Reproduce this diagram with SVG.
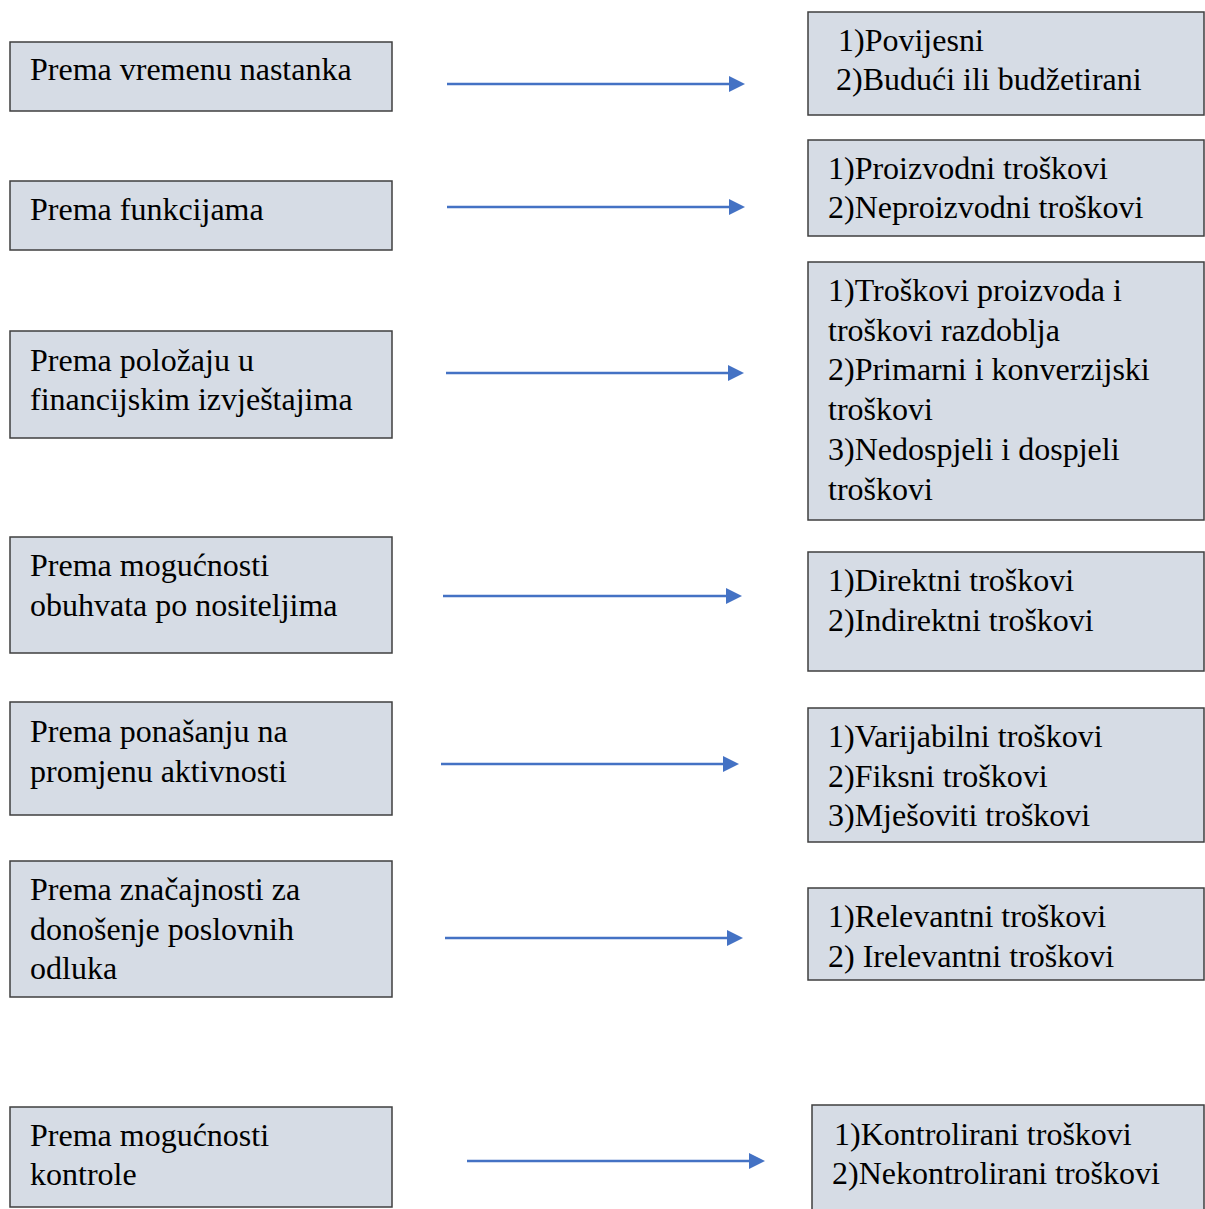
<svg xmlns="http://www.w3.org/2000/svg" width="1205" height="1209" viewBox="0 0 1205 1209">
<style>
.box{fill:#D6DCE5;stroke:#3F3F3F;stroke-width:1.5}
.t{font-family:"Liberation Serif","Times New Roman",serif;font-size:32px;fill:#000}
.c{stroke:#4472C4;stroke-width:2.5;fill:none}
</style>
<defs>
<marker id="ah" markerUnits="userSpaceOnUse" markerWidth="16" markerHeight="16" refX="2" refY="8" orient="auto">
<path d="M0,0 L16,8 L0,16 z" fill="#4472C4"/>
</marker>
</defs>
<rect width="1205" height="1209" fill="#fff"/>
<g id="l1"><rect class="box" x="10" y="42" width="382" height="69"/><text class="t" x="30" y="80">Prema vremenu nastanka</text></g>
<g id="l2"><rect class="box" x="10" y="181" width="382" height="69"/><text class="t" x="30" y="220">Prema funkcijama</text></g>
<g id="l3"><rect class="box" x="10" y="331" width="382" height="107"/><text class="t" x="30" y="371">Prema položaju u</text><text class="t" x="30" y="410">financijskim izvještajima</text></g>
<g id="l4"><rect class="box" x="10" y="537" width="382" height="116"/><text class="t" x="30" y="576">Prema mogućnosti</text><text class="t" x="30" y="616">obuhvata po nositeljima</text></g>
<g id="l5"><rect class="box" x="10" y="702" width="382" height="113"/><text class="t" x="30" y="742">Prema ponašanju na</text><text class="t" x="30" y="782">promjenu aktivnosti</text></g>
<g id="l6"><rect class="box" x="10" y="861" width="382" height="136"/><text class="t" x="30" y="900">Prema značajnosti za</text><text class="t" x="30" y="940">donošenje poslovnih</text><text class="t" x="30" y="979">odluka</text></g>
<g id="l7"><rect class="box" x="10" y="1107" width="382" height="100"/><text class="t" x="30" y="1146">Prema mogućnosti</text><text class="t" x="30" y="1185">kontrole</text></g>

<g id="r1"><rect class="box" x="808" y="12" width="396" height="103"/><text class="t" x="838" y="51">1)Povijesni</text><text class="t" x="836" y="90">2)Budući ili budžetirani</text></g>
<g id="r2"><rect class="box" x="808" y="140" width="396" height="96"/><text class="t" x="828" y="179">1)Proizvodni troškovi</text><text class="t" x="828" y="218">2)Neproizvodni troškovi</text></g>
<g id="r3"><rect class="box" x="808" y="262" width="396" height="258"/><text class="t" x="828" y="301">1)Troškovi proizvoda i</text><text class="t" x="828" y="341">troškovi razdoblja</text><text class="t" x="828" y="380">2)Primarni i konverzijski</text><text class="t" x="828" y="420">troškovi</text><text class="t" x="828" y="460">3)Nedospjeli i dospjeli</text><text class="t" x="828" y="500">troškovi</text></g>
<g id="r4"><rect class="box" x="808" y="552" width="396" height="119"/><text class="t" x="828" y="591">1)Direktni troškovi</text><text class="t" x="828" y="631">2)Indirektni troškovi</text></g>
<g id="r5"><rect class="box" x="808" y="708" width="396" height="134"/><text class="t" x="828" y="747">1)Varijabilni troškovi</text><text class="t" x="828" y="787">2)Fiksni troškovi</text><text class="t" x="828" y="826">3)Mješoviti troškovi</text></g>
<g id="r6"><rect class="box" x="808" y="888" width="396" height="92"/><text class="t" x="828" y="927">1)Relevantni troškovi</text><text class="t" x="828" y="967">2) Irelevantni troškovi</text></g>
<g id="r7"><rect class="box" x="812" y="1105" width="392" height="110"/><text class="t" x="834" y="1145">1)Kontrolirani troškovi</text><text class="t" x="832" y="1184">2)Nekontrolirani troškovi</text></g>

<g id="connectors">
<line class="c" x1="447" y1="84" x2="731" y2="84" marker-end="url(#ah)"/>
<line class="c" x1="447" y1="207" x2="731" y2="207" marker-end="url(#ah)"/>
<line class="c" x1="446" y1="373" x2="730" y2="373" marker-end="url(#ah)"/>
<line class="c" x1="443" y1="596" x2="728" y2="596" marker-end="url(#ah)"/>
<line class="c" x1="441" y1="764" x2="725" y2="764" marker-end="url(#ah)"/>
<line class="c" x1="445" y1="938" x2="729" y2="938" marker-end="url(#ah)"/>
<line class="c" x1="467" y1="1161" x2="751" y2="1161" marker-end="url(#ah)"/>
</g>
</svg>
